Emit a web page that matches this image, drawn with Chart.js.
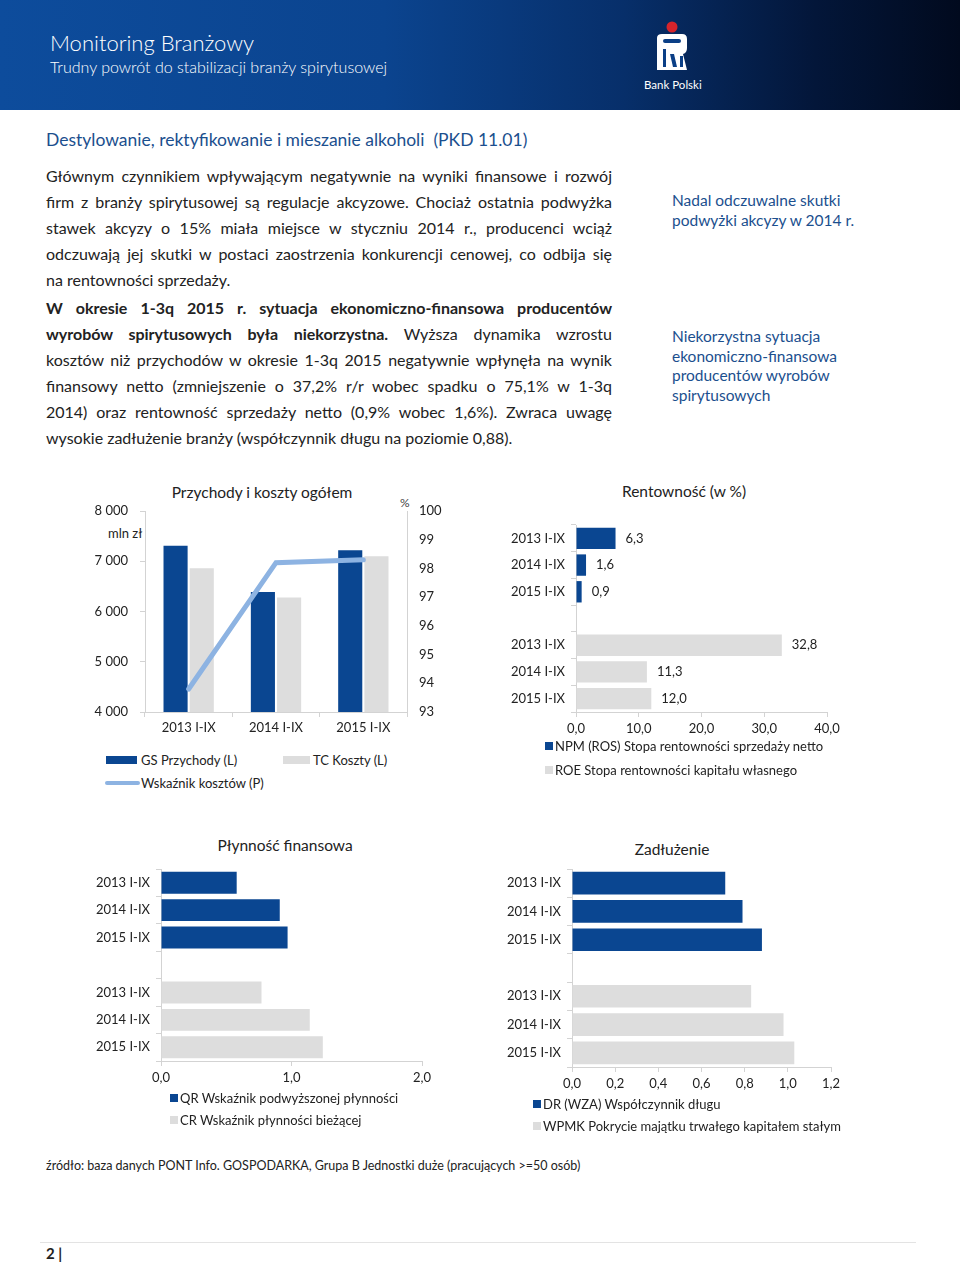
<!DOCTYPE html>
<html lang="pl">
<head>
<meta charset="utf-8">
<script src="https://cdn.jsdelivr.net/npm/chart.js@4.4.0/dist/chart.umd.min.js"></script>
<style>
  html, body { margin: 0; padding: 0; background: #fff; }
  body { width: 960px; height: 1263px; position: relative; overflow: hidden; font-family: Lato, "Open Sans", sans-serif; color: #222; }
  .header { position: absolute; left: 0; top: 0; width: 960px; height: 110px;
    background: linear-gradient(90deg, #0d4c9c 0%, #0b448f 40%, #072f6a 65%, #031639 85%, #010a1e 100%); }
  .t { position: absolute; white-space: nowrap; line-height: 1; transform: translateY(-50%); }
  .blue { color: #1b4f8e; }
  .body { position: absolute; left: 46px; width: 566px; font-size: 16px; color: #222; }
  .body div { height: 26px; line-height: 26px; white-space: nowrap; text-align: justify; text-align-last: justify; }
  .body div.last { text-align-last: left; }
  .note { position: absolute; left: 672px; font-size: 15.5px; color: #1b4f8e; line-height: 19.6px; }
  canvas { position: absolute; }
  .sw { position: absolute; }
  .ttl { position: absolute; white-space: nowrap; line-height: 1; transform: translate(-50%, -50%); font-size: 15.5px; color: #222; }
  .lg { font-size: 13px; color: #222; }
</style>
</head>
<body>
<div class="header"></div>
<div class="t" style="left:50px;top:43px;font-size:22px;font-weight:300;color:#fff;">Monitoring Branżowy</div>
<div class="t" style="left:50px;top:67px;font-size:16px;font-weight:300;color:#fff;">Trudny powrót do stabilizacji branży spirytusowej</div>
<svg style="position:absolute;left:652px;top:18px" width="40" height="56" viewBox="0 0 40 56">
  <circle cx="20" cy="9" r="5.5" fill="#d6242b"/>
  <path d="M5 20 Q5 16 10 16 L30 16 Q35 16 35 21 L35 30 Q35 35 31 36 L35 52 L5 52 Z" fill="#fff"/>
  <rect x="11" y="21" width="18" height="4" rx="2" fill="#0b3f86"/>
  <rect x="11" y="31" width="3" height="18" fill="#0b3f86"/>
  <path d="M18 36 L22 36 L25 49 L21 49 Z" fill="#0b3f86"/>
  <rect x="28" y="38" width="3" height="11" fill="#0b3f86"/>
</svg>
<div class="t" style="left:644px;top:85px;font-size:11.5px;color:#fff;">Bank Polski</div>

<div class="t blue" style="left:46px;top:140px;font-size:17.5px;">Destylowanie, rektyfikowanie i mieszanie alkoholi&nbsp; (PKD 11.01)</div>

<div class="body" style="top:163px;">
  <div>Głównym czynnikiem wpływającym negatywnie na wyniki finansowe i rozwój</div>
  <div>firm z branży spirytusowej są regulacje akcyzowe. Chociaż ostatnia podwyżka</div>
  <div>stawek akcyzy o 15% miała miejsce w styczniu 2014 r., producenci wciąż</div>
  <div>odczuwają jej skutki w postaci zaostrzenia konkurencji cenowej, co odbija się</div>
  <div class="last">na rentowności sprzedaży.</div>
</div>
<div class="body" style="top:295px;">
  <div><b>W okresie 1-3q 2015 r. sytuacja ekonomiczno-finansowa producentów</b></div>
  <div><b>wyrobów spirytusowych była niekorzystna.</b> Wyższa dynamika wzrostu</div>
  <div>kosztów niż przychodów w okresie 1-3q 2015 negatywnie wpłynęła na wynik</div>
  <div>finansowy netto (zmniejszenie o 37,2% r/r wobec spadku o 75,1% w 1-3q</div>
  <div>2014) oraz rentowność sprzedaży netto (0,9% wobec 1,6%). Zwraca uwagę</div>
  <div class="last">wysokie zadłużenie branży (współczynnik długu na poziomie 0,88).</div>
</div>

<div class="note" style="top:191px;">Nadal odczuwalne skutki<br>podwyżki akcyzy w 2014 r.</div>
<div class="note" style="top:327px;">Niekorzystna sytuacja<br>ekonomiczno-finansowa<br>producentów wyrobów<br>spirytusowych</div>

<!-- chart 1 -->
<div class="ttl" style="left:262px;top:493px;">Przychody i koszty ogółem</div>
<div class="t lg" style="left:108px;top:533px;">mln zł</div>
<div class="t" style="left:400px;top:503px;font-size:12px;color:#444;">%</div>
<canvas id="c1" width="360" height="240" style="left:90px;top:500px;"></canvas>
<div class="sw" style="left:106px;top:756px;width:31px;height:8px;background:#0a4691;"></div>
<div class="t lg" style="left:141px;top:760px;">GS Przychody (L)</div>
<div class="sw" style="left:283px;top:756px;width:27px;height:8px;background:#dddddd;"></div>
<div class="t lg" style="left:313px;top:760px;">TC Koszty (L)</div>
<div class="sw" style="left:105px;top:781px;width:35px;height:4px;background:#8db3e2;border-radius:2px;"></div>
<div class="t lg" style="left:141px;top:783px;">Wskaźnik kosztów (P)</div>

<!-- chart 2 -->
<div class="ttl" style="left:684px;top:492px;">Rentowność (w %)</div>
<canvas id="c2" width="360" height="233" style="left:505px;top:520px;"></canvas>
<div class="sw" style="left:545px;top:742px;width:8px;height:8px;background:#0a4691;"></div>
<div class="t lg" style="left:555px;top:746px;">NPM (ROS) Stopa rentowności sprzedaży netto</div>
<div class="sw" style="left:545px;top:766px;width:8px;height:8px;background:#dddddd;"></div>
<div class="t lg" style="left:555px;top:770px;">ROE Stopa rentowności kapitału własnego</div>

<!-- chart 3 -->
<div class="ttl" style="left:285px;top:846px;">Płynność finansowa</div>
<canvas id="c3" width="360" height="230" style="left:90px;top:860px;"></canvas>
<div class="sw" style="left:170px;top:1094px;width:8px;height:8px;background:#0a4691;"></div>
<div class="t lg" style="left:180px;top:1098px;">QR Wskaźnik podwyższonej płynności</div>
<div class="sw" style="left:170px;top:1116px;width:8px;height:8px;background:#dddddd;"></div>
<div class="t lg" style="left:180px;top:1120px;">CR Wskaźnik płynności bieżącej</div>

<!-- chart 4 -->
<div class="ttl" style="left:672px;top:850px;">Zadłużenie</div>
<canvas id="c4" width="365" height="240" style="left:500px;top:860px;"></canvas>
<div class="sw" style="left:533px;top:1100px;width:8px;height:8px;background:#0a4691;"></div>
<div class="t lg" style="left:543px;top:1104px;">DR (WZA) Współczynnik długu</div>
<div class="sw" style="left:533px;top:1122px;width:8px;height:8px;background:#dddddd;"></div>
<div class="t lg" style="left:543px;top:1126px;">WPMK Pokrycie majątku trwałego kapitałem stałym</div>

<div class="t" style="left:46px;top:1166px;font-size:12.5px;">źródło: baza danych PONT Info. GOSPODARKA, Grupa B Jednostki duże (pracujących &gt;=50 osób)</div>
<div style="position:absolute;left:40px;top:1242px;width:876px;height:1px;background:#e3e3e3;"></div>
<div class="t" style="left:46px;top:1253px;font-size:15px;font-weight:bold;">2 |</div>

<script>
const periods = ['2013 I-IX', '2014 I-IX', '2015 I-IX'];
const revenues = [7310, 6390, 7220];
const costs = [6860, 6280, 7100];
const costRatio = [93.8, 98.2, 98.3];

const npm = [6.3, 1.6, 0.9];
const roe = [32.8, 11.3, 12.0];

const quickRatio = [0.58, 0.91, 0.97];
const currentRatio = [0.77, 1.14, 1.24];

const debtRatio = [0.71, 0.79, 0.88];
const fixedCover = [0.83, 0.98, 1.03];

const DARK = '#0a4691';
const GREY = '#dddddd';
const LINE = '#8db3e2';
const AXIS = '#d3d3d3';

Chart.defaults.font.family = 'Lato, "Open Sans", sans-serif';
Chart.defaults.font.size = 13;
Chart.defaults.color = '#222';
Chart.defaults.animation = false;

const comma = (v, d) => v.toFixed(d).replace('.', ',');
const thousands = v => String(v).replace(/\B(?=(\d{3})+(?!\d))/g, ' ');

// fixed scale size, no extra label padding (layout padding decides the plot box)
function fix(prop, size) {
    return s => {
        s[prop] = size;
        s.paddingTop = 0; s.paddingBottom = 0; s.paddingLeft = 0; s.paddingRight = 0;
    };
}

// chart 1 - bars + line on second axis
new Chart(document.getElementById('c1'), {
    type: 'bar',
    data: {
        labels: periods,
        datasets: [
            { type: 'line', data: costRatio, yAxisID: 'y1', borderColor: LINE, borderWidth: 5,
              pointRadius: 0, tension: 0, borderCapStyle: 'round', order: 0 },
            { data: revenues, backgroundColor: DARK, yAxisID: 'y', order: 1 },
            { data: costs, backgroundColor: GREY, yAxisID: 'y', order: 2 }
        ]
    },
    options: {
        responsive: false,
        categoryPercentage: 0.6,
        barPercentage: 0.92,
        layout: { padding: { top: 11, right: 0, left: 0, bottom: 0 } },
        plugins: { legend: { display: false }, tooltip: { enabled: false } },
        scales: {
            x: {
                grid: { drawOnChartArea: false, tickLength: 5, color: AXIS },
                border: { color: AXIS },
                ticks: { padding: 3 },
                afterFit: fix('height', 28)
            },
            y: {
                position: 'left', min: 4000, max: 8000,
                ticks: { stepSize: 1000, padding: 12, callback: v => thousands(v) },
                grid: { drawOnChartArea: false, tickLength: 5, color: AXIS },
                border: { color: AXIS },
                afterFit: fix('width', 55)
            },
            y1: {
                position: 'right', min: 93, max: 100,
                ticks: { stepSize: 1, padding: 12 },
                grid: { drawOnChartArea: false, drawTicks: false, color: AXIS },
                border: { color: AXIS },
                afterFit: fix('width', 43)
            }
        }
    }
});

// value labels next to horizontal bars
const valueLabels = {
    id: 'valueLabels',
    afterDatasetsDraw(chart) {
        const ctx = chart.ctx;
        ctx.save();
        ctx.font = '13px Lato, "Open Sans", sans-serif';
        ctx.fillStyle = '#222';
        ctx.textBaseline = 'middle';
        chart.data.datasets.forEach((ds, i) => {
            chart.getDatasetMeta(i).data.forEach((bar, j) => {
                const v = ds.data[j];
                if (v == null) return;
                ctx.fillText(comma(v, 1), bar.x + 10, bar.y);
            });
        });
        ctx.restore();
    }
};

function hbar(id, top, bottom, o) {
    new Chart(document.getElementById(id), {
        type: 'bar',
        data: {
            labels: [...periods, '', ...periods],
            datasets: [
                { data: [...top, null, null, null, null], backgroundColor: DARK },
                { data: [null, null, null, null, ...bottom], backgroundColor: GREY }
            ]
        },
        options: {
            indexAxis: 'y',
            responsive: false,
            barPercentage: 0.8,
            categoryPercentage: 1,
            layout: { padding: { top: o.padTop, right: o.padRight, left: 0, bottom: 0 } },
            plugins: { legend: { display: false }, tooltip: { enabled: false } },
            scales: {
                y: {
                    stacked: true,
                    ticks: { autoSkip: false, padding: 6 },
                    grid: { drawOnChartArea: false, tickLength: 5, color: AXIS },
                    border: { color: AXIS },
                    afterFit: fix('width', o.yWidth)
                },
                x: {
                    min: 0, max: o.max,
                    ticks: { stepSize: o.step, padding: 4, callback: v => comma(v, 1) },
                    grid: { drawOnChartArea: false, tickLength: 5, color: AXIS },
                    border: { color: AXIS },
                    afterFit: fix('height', o.xHeight)
                }
            }
        },
        plugins: o.labels ? [valueLabels] : []
    });
}

hbar('c2', npm, roe, { max: 40, step: 10, yWidth: 71, xHeight: 41, padTop: 5, padRight: 38, labels: true });
hbar('c3', quickRatio, currentRatio, { max: 2, step: 1, yWidth: 71, xHeight: 29, padTop: 9, padRight: 28 });
hbar('c4', debtRatio, fixedCover, { max: 1.2, step: 0.2, yWidth: 72, xHeight: 33, padTop: 9, padRight: 34 });
</script>
</body>
</html>
